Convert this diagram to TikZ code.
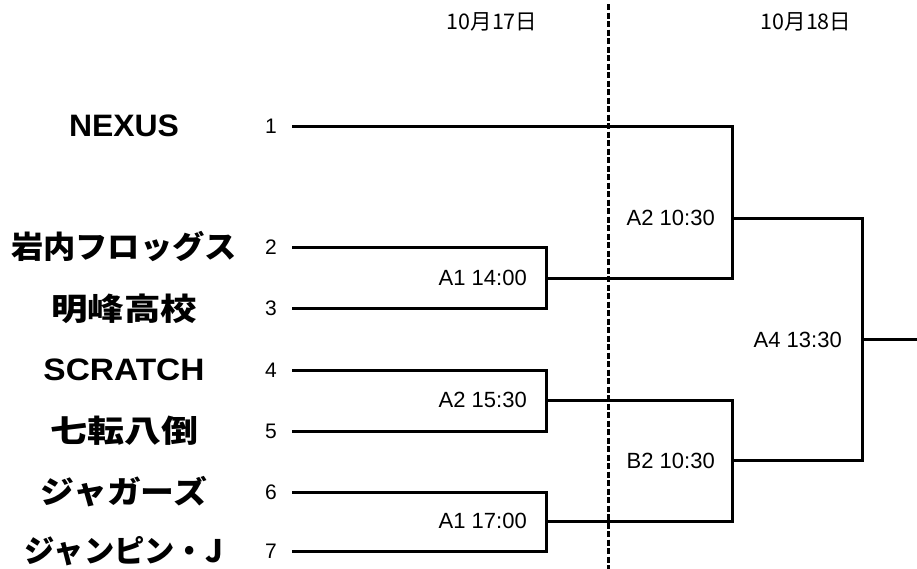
\documentclass[tikz,border=0pt]{standalone}
\usepackage{fontspec}
\usepackage{graphicx}
\setmainfont{Liberation Sans}
\newfontfamily\jp{Noto Sans CJK JP}
\newcommand\fitname[2]{\resizebox{#1}{\height}{#2}}
\begin{document}
\begin{tikzpicture}[x=1pt,y=-1pt,
  br/.style={line width=3pt,line join=miter,line cap=rect},
  sep/.style={line width=3pt,dash pattern=on 6pt off 2.5pt},
  team/.style={inner sep=0pt,font=\fontsize{31}{31}\selectfont\bfseries},
  seed/.style={inner sep=0pt,font=\fontsize{21}{21}\selectfont},
  game/.style={inner sep=0pt,anchor=east,font=\fontsize{22}{22}\selectfont},
  day/.style={inner sep=0pt,font=\jp\fontsize{21.5}{21.5}\selectfont}]
\useasboundingbox (0,0) rectangle (917,568);
% day separator
\coordinate (dtop) at (608,4);
\coordinate (dbot) at (608,570);
\draw[sep] (dtop) -- (dbot);
\node[day] (d17) at (492,22) {10月17日};
\node[day] (d18) at (806,22) {10月18日};
% teams
\node[team] (t1) at (124,126) {\fitname{110pt}{NEXUS}};
\node[team] (t2) at (124,246) {\fitname{226pt}{\jp 岩内フロッグス}};
\node[team] (t3) at (124,309) {\fitname{146pt}{\jp 明峰高校}};
\node[team] (t4) at (124,370) {\fitname{161pt}{SCRATCH}};
\node[team] (t5) at (124,431) {\fitname{148pt}{\jp 七転八倒}};
\node[team] (t6) at (124,492) {\fitname{166pt}{\jp ジャガーズ}};
\node[team] (t7) at (124,551) {\fitname{198pt}{\jp ジャンピン・J}};
% seeds
\node[seed] (n1) at (271,126) {1};
\node[seed] (n2) at (271,247) {2};
\node[seed] (n3) at (271,308) {3};
\node[seed] (n4) at (271,370) {4};
\node[seed] (n5) at (271,431) {5};
\node[seed] (n6) at (271,492) {6};
\node[seed] (n7) at (271,551) {7};
% bracket points
\coordinate (s1) at (293,126);
\coordinate (s2) at (293,247);
\coordinate (s3) at (293,308);
\coordinate (s4) at (293,370);
\coordinate (s5) at (293,431);
\coordinate (s6) at (293,492);
\coordinate (s7) at (293,551);
\coordinate (c23) at (546,308);
\coordinate (c45) at (546,431);
\coordinate (c67) at (546,551);
\coordinate (m23) at (546,278);
\coordinate (m45) at (546,400);
\coordinate (m67) at (546,521);
\coordinate (q1) at (732,278);
\coordinate (q2) at (732,521);
\coordinate (o1) at (732,218);
\coordinate (o2) at (732,460);
\coordinate (f1) at (862,460);
\coordinate (f0) at (862,339);
\coordinate (fin) at (918,339);
% first round
\draw[br] (s2) -| (c23) -- (s3);
\draw[br] (s4) -| (c45) -- (s5);
\draw[br] (s6) -| (c67) -- (s7);
% second round
\draw[br] (s1) -| (q1) -- (m23);
\draw[br] (m45) -| (q2) -- (m67);
% final
\draw[br] (o1) -| (f1) -- (o2);
\draw[br] (f0) -- (fin);
% game labels
\node[game] (g1) at (527,278) {A1 14:00};
\node[game] (g2) at (527,400) {A2 15:30};
\node[game] (g3) at (527,521) {A1 17:00};
\node[game] (g4) at (715,218) {A2 10:30};
\node[game] (g5) at (715,461) {B2 10:30};
\node[game] (g6) at (842,340) {A4 13:30};
\end{tikzpicture}
\end{document}
